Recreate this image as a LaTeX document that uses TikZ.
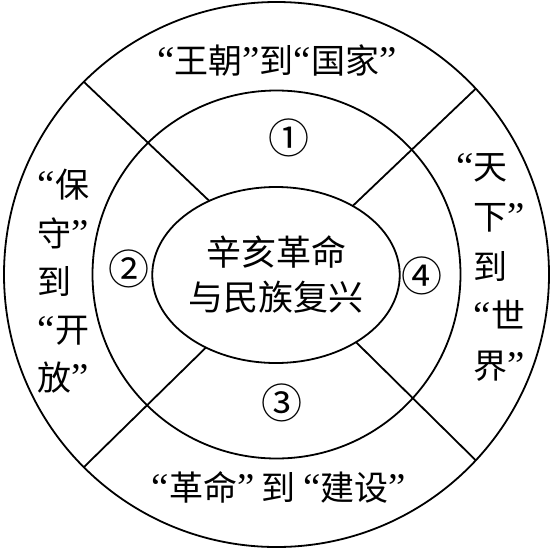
\documentclass[tikz,border=0pt]{standalone}
\usepackage{fontspec}
\setmainfont{Noto Sans CJK SC}
\newfontfamily\quotefont[Scale=1.15]{Liberation Serif}
\newcommand\oquo{{\quotefont “}}
\newcommand\cquo{{\quotefont ”}}
\usetikzlibrary{shapes.geometric}

\begin{document}
\begin{tikzpicture}[x=1pt,y=1pt,line width=1.8pt,
    disc/.style={circle,draw,inner sep=0pt,outer sep=0pt},
    hub/.style={ellipse,draw,inner sep=0pt,outer sep=0pt,minimum width=232pt,minimum height=176pt,align=center,font=\fontsize{35}{45}\selectfont},
    phrase/.style={inner sep=0pt,font=\fontsize{34}{40}\selectfont},
    numeral/.style={inner sep=0pt,font=\fontsize{41}{41}\selectfont}]
    \useasboundingbox (-276.5,-275.5) rectangle (274.5,274.5);

    \node[disc,minimum size=545pt] (rim) at (0,0) {};
    \node[disc,minimum size=368pt] (ring) at (0,0) {};
    \node[hub] (core) at (-0.5,-0.5) {辛亥革命\\与民族复兴};

    \draw
      (core.132) -- (rim.135)
      (core.42) -- (rim.43)
      (core.226) -- (rim.225)
      (core.320) -- (rim.317);

    \node[phrase] (wangchao) at (0.5,214.5) {\oquo 王朝\cquo 到\oquo 国家\cquo};
    \node[phrase] (geming) at (2.5,-212.5) {\oquo 革命\cquo\ 到 \oquo 建设\cquo};
    \node[phrase,anchor=west,align=left,font=\fontsize{34}{48.25}\selectfont] (baoshou) at (-239.5,-7)
      {\oquo 保\\守\cquo\\到\\\oquo 开\\放\cquo};
    \node[phrase,anchor=west,align=left,font=\fontsize{34}{49.75}\selectfont] (tianxia) at (196.5,7)
      {\llap{\oquo}天\\下\cquo\\到\\\oquo 世\\界\cquo};

    \path
      (12.8,136.2) node[numeral] (n1) {①}
      (-147.2,5.2) node[numeral] (n2) {②}
      (5.8,-128.8) node[numeral] (n3) {③}
      (145.8,-1.5) node[numeral] (n4) {④};
  \end{tikzpicture}
\end{document}
